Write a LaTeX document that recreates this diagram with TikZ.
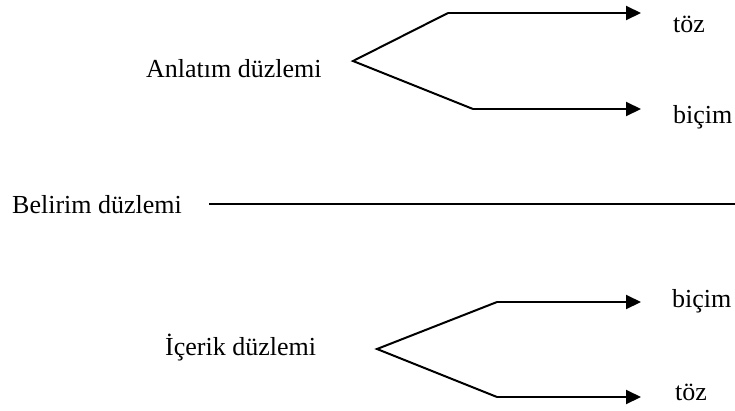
\documentclass[tikz,border=0pt]{standalone}
\usepackage{fontspec}
\setmainfont{Liberation Serif}
\usetikzlibrary{arrows.meta}
\begin{document}
\begin{tikzpicture}[x=1pt,y=-1pt,
  lbl/.style={anchor=base west,inner sep=0pt,font=\fontsize{26}{30}\selectfont},
  branch/.style={line width=2pt,line join=miter},
  tip/.style={branch,-{Triangle[length=15pt,width=14pt]}}]
\useasboundingbox (0,0) rectangle (735,410);

% upper group: Anlatım düzlemi
\node[lbl] (anl) at (146,77) {Anlatım düzlemi};
\coordinate (a0) at (353,61);
\coordinate (a1) at (448,13);
\coordinate (a2) at (473,109);
\coordinate (a1e) at (641,13);
\coordinate (a2e) at (641,109);
\node[lbl] (atoz) at (673,32) {töz};
\node[lbl] (abic) at (673,123) {biçim};
\draw[branch] (a1) -- (a0) -- (a2);
\draw[tip] (a1) -- (a1e);
\draw[tip] (a2) -- (a2e);

% middle line: Belirim düzlemi
\node[lbl] (bel) at (12,213) {Belirim düzlemi};
\coordinate (m0) at (209,204);
\coordinate (m1) at (735,204);
\draw[branch] (m0) -- (m1);

% lower group: İçerik düzlemi
\node[lbl] (ice) at (165,355) {İçerik düzlemi};
\coordinate (c0) at (377,349);
\coordinate (c1) at (497,302);
\coordinate (c2) at (497,397);
\coordinate (c1e) at (641,302);
\coordinate (c2e) at (641,397);
\node[lbl] (cbic) at (672,307) {biçim};
\node[lbl] (ctoz) at (675,400) {töz};
\draw[branch] (c1) -- (c0) -- (c2);
\draw[tip] (c1) -- (c1e);
\draw[tip] (c2) -- (c2e);
\end{tikzpicture}
\end{document}
